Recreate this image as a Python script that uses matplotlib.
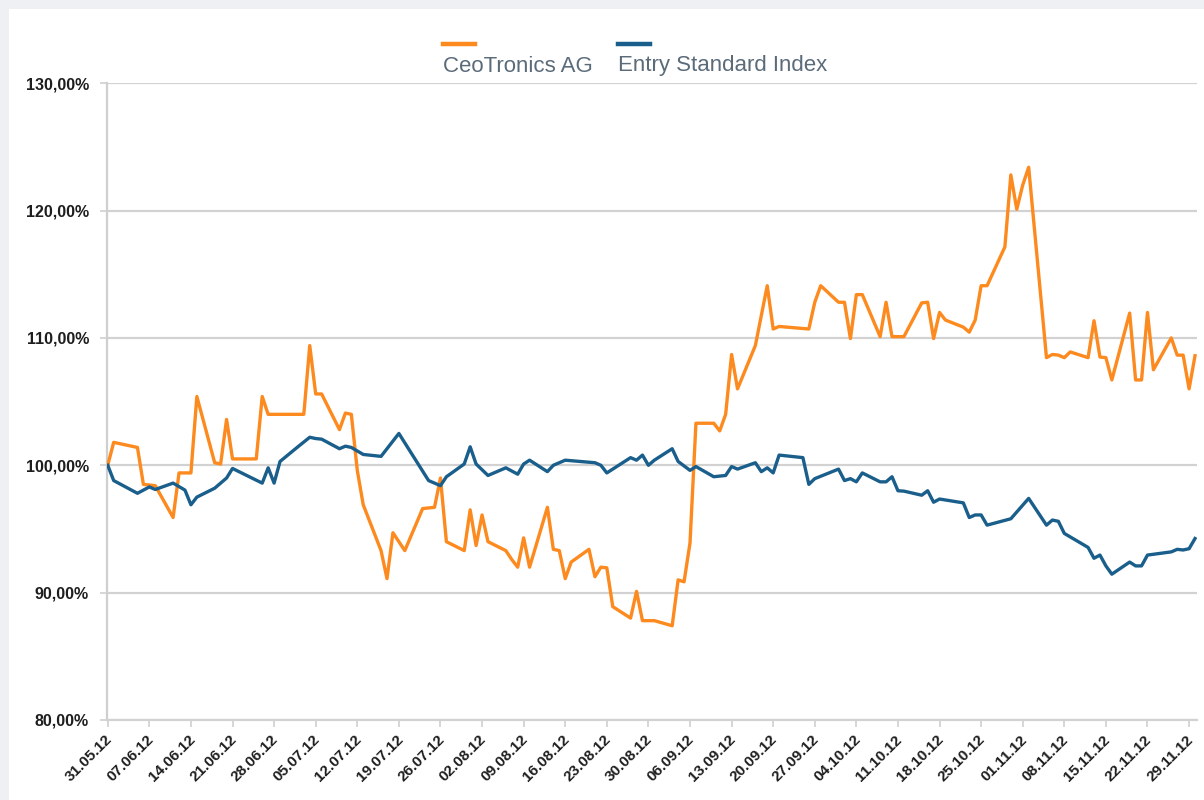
import datetime as dt
import matplotlib
matplotlib.use("Agg")
import matplotlib.pyplot as plt
import matplotlib.dates as mdates
import matplotlib.transforms as mtransforms
from matplotlib.lines import Line2D
from matplotlib.patches import Rectangle
from matplotlib.ticker import FuncFormatter, MultipleLocator

plt.rcParams["font.family"] = ["Liberation Sans", "DejaVu Sans"]

series_names = ["CeoTronics AG", "Entry Standard Index"]
series_colors = ["#fd8a1e", "#1a5f8b"]

# CeoTronics AG, relative to 31.05.12 (%)
ceo_dates = [
    "31.05.12", "01.06.12", "04.06.12", "05.06.12", "06.06.12", "08.06.12", "11.06.12", "12.06.12",
    "14.06.12", "15.06.12", "18.06.12", "19.06.12", "20.06.12", "21.06.12", "25.06.12", "26.06.12",
    "27.06.12", "03.07.12", "04.07.12", "05.07.12", "06.07.12", "09.07.12", "10.07.12", "11.07.12",
    "12.07.12", "13.07.12", "16.07.12", "17.07.12", "18.07.12", "20.07.12", "23.07.12", "25.07.12",
    "26.07.12", "27.07.12", "30.07.12", "31.07.12", "01.08.12", "02.08.12", "03.08.12", "06.08.12",
    "07.08.12", "08.08.12", "09.08.12", "10.08.12", "13.08.12", "14.08.12", "15.08.12", "16.08.12",
    "17.08.12", "20.08.12", "21.08.12", "22.08.12", "23.08.12", "24.08.12", "27.08.12", "28.08.12",
    "29.08.12", "31.08.12", "03.09.12", "04.09.12", "05.09.12", "06.09.12", "07.09.12", "10.09.12",
    "11.09.12", "12.09.12", "13.09.12", "14.09.12", "17.09.12", "19.09.12", "20.09.12", "21.09.12",
    "26.09.12", "27.09.12", "28.09.12", "01.10.12", "02.10.12", "03.10.12", "04.10.12", "05.10.12",
    "08.10.12", "09.10.12", "10.10.12", "12.10.12", "15.10.12", "16.10.12", "17.10.12", "18.10.12",
    "19.10.12", "22.10.12", "23.10.12", "24.10.12", "25.10.12", "26.10.12", "29.10.12", "30.10.12",
    "31.10.12", "01.11.12", "02.11.12", "05.11.12", "06.11.12", "07.11.12", "08.11.12", "09.11.12",
    "12.11.12", "13.11.12", "14.11.12", "15.11.12", "16.11.12", "19.11.12", "20.11.12", "21.11.12",
    "22.11.12", "23.11.12", "26.11.12", "27.11.12", "28.11.12", "29.11.12", "30.11.12",
]
ceo_values = [
    100.0, 101.8, 101.5, 101.4, 98.5, 98.4, 95.9, 99.4,
    99.4, 105.4, 100.2, 100.1, 103.6, 100.5, 100.5, 105.4,
    104.0, 104.0, 109.4, 105.6, 105.6, 102.8, 104.1, 104.0,
    99.6, 96.9, 93.3, 91.1, 94.7, 93.3, 96.6, 96.7,
    99.0, 94.0, 93.3, 96.5, 93.7, 96.1, 94.0, 93.3,
    92.6, 92.0, 94.3, 92.0, 96.7, 93.4, 93.3, 91.1,
    92.4, 93.4, 91.25, 92.0, 91.95, 88.9, 88.0, 90.1,
    87.8, 87.8, 87.4, 91.0, 90.85, 93.9, 103.3, 103.3,
    102.7, 104.0, 108.7, 106.0, 109.4, 114.1, 110.7, 110.9,
    110.7, 112.8, 114.1, 112.8, 112.8, 109.95, 113.4, 113.4,
    110.1, 112.8, 110.1, 110.1, 112.75, 112.8, 109.95, 112.0,
    111.4, 110.85, 110.45, 111.4, 114.1, 114.1, 117.15, 122.8,
    120.1, 122.0, 123.4, 108.45, 108.7, 108.65, 108.45, 108.9,
    108.45, 111.35, 108.5, 108.45, 106.7, 111.95, 106.7, 106.7,
    112.0, 107.5, 110.0, 108.65, 108.65, 106.0, 108.6,
]

# Entry Standard Index, relative to 31.05.12 (%)
esi_dates = [
    "31.05.12", "01.06.12", "05.06.12", "07.06.12", "08.06.12", "11.06.12", "13.06.12", "14.06.12",
    "15.06.12", "18.06.12", "20.06.12", "21.06.12", "26.06.12", "27.06.12", "28.06.12", "29.06.12",
    "02.07.12", "04.07.12", "05.07.12", "06.07.12", "09.07.12", "10.07.12", "11.07.12", "13.07.12",
    "16.07.12", "19.07.12", "24.07.12", "26.07.12", "27.07.12", "30.07.12", "31.07.12", "01.08.12",
    "03.08.12", "06.08.12", "08.08.12", "09.08.12", "10.08.12", "13.08.12", "14.08.12", "16.08.12",
    "21.08.12", "22.08.12", "23.08.12", "27.08.12", "28.08.12", "29.08.12", "30.08.12", "31.08.12",
    "03.09.12", "04.09.12", "06.09.12", "07.09.12", "10.09.12", "12.09.12", "13.09.12", "14.09.12",
    "17.09.12", "18.09.12", "19.09.12", "20.09.12", "21.09.12", "25.09.12", "26.09.12", "27.09.12",
    "01.10.12", "02.10.12", "03.10.12", "04.10.12", "05.10.12", "08.10.12", "09.10.12", "10.10.12",
    "11.10.12", "12.10.12", "15.10.12", "16.10.12", "17.10.12", "18.10.12", "22.10.12", "23.10.12",
    "24.10.12", "25.10.12", "26.10.12", "30.10.12", "02.11.12", "05.11.12", "06.11.12", "07.11.12",
    "08.11.12", "12.11.12", "13.11.12", "14.11.12", "15.11.12", "16.11.12", "19.11.12", "20.11.12",
    "21.11.12", "22.11.12", "26.11.12", "27.11.12", "28.11.12", "29.11.12", "30.11.12",
]
esi_values = [
    100.0, 98.8, 97.8, 98.3, 98.1, 98.6, 98.05, 96.9,
    97.5, 98.2, 99.0, 99.75, 98.6, 99.8, 98.6, 100.3,
    101.45, 102.2, 102.1, 102.05, 101.3, 101.5, 101.4, 100.85,
    100.7, 102.5, 98.8, 98.4, 99.1, 100.1, 101.45, 100.1,
    99.2, 99.8, 99.3, 100.1, 100.4, 99.5, 100.0, 100.4,
    100.2, 100.0, 99.4, 100.6, 100.4, 100.8, 100.0, 100.4,
    101.3, 100.3, 99.6, 99.9, 99.1, 99.2, 99.9, 99.7,
    100.2, 99.5, 99.8, 99.4, 100.8, 100.6, 98.5, 98.95,
    99.7, 98.8, 98.95, 98.7, 99.4, 98.7, 98.7, 99.1,
    98.0, 97.97, 97.65, 98.0, 97.1, 97.35, 97.05, 95.9,
    96.1, 96.1, 95.3, 95.8, 97.4, 95.3, 95.7, 95.6,
    94.65, 93.55, 92.7, 92.95, 92.1, 91.45, 92.4, 92.1,
    92.1, 92.95, 93.2, 93.4, 93.35, 93.45, 94.25,
]


def parse(ds):
    return [dt.datetime.strptime(d, "%d.%m.%y") for d in ds]


fig = plt.figure(figsize=(12.04, 8.0), dpi=100, facecolor="#eef0f3")
# white panel inside the grey frame
fig.add_artist(Rectangle((9 / 1204, 0), 1 - 9 / 1204, 1 - 9 / 800,
                         transform=fig.transFigure, facecolor="white", edgecolor="none", zorder=0))

ax = fig.add_axes([107 / 1204, 0.1, (1197 - 107) / 1204, 0.796])
ax.set_facecolor("none")

ax.plot(parse(ceo_dates), ceo_values, color=series_colors[0], lw=2.4, solid_joinstyle="round", zorder=3)
ax.plot(parse(esi_dates), esi_values, color=series_colors[1], lw=2.4, solid_joinstyle="round", zorder=3)

ax.set_ylim(80, 130)
ax.yaxis.set_major_locator(MultipleLocator(10))
ax.yaxis.set_major_formatter(FuncFormatter(lambda v, p: f"{v:.2f}".replace(".", ",") + "%"))
ax.grid(axis="y", color="#d2d2d2", lw=1.6, zorder=1)

x0 = dt.datetime(2012, 5, 31)
ax.set_xlim(x0 - dt.timedelta(hours=3), dt.datetime(2012, 11, 30, 8))
ax.xaxis.set_major_locator(mdates.WeekdayLocator(byweekday=mdates.TH))
ax.xaxis.set_major_formatter(mdates.DateFormatter("%d.%m.%y"))

for s in ["top", "right"]:
    ax.spines[s].set_visible(False)
ax.spines["left"].set_color("#cfcfcf")
ax.spines["left"].set_linewidth(1.6)
ax.spines["bottom"].set_color("#d2d2d2")
ax.spines["bottom"].set_linewidth(1.6)

ax.tick_params(axis="y", length=5, width=1.2, color="#cfcfcf", pad=8,
               labelsize=11.5, labelcolor="#1e1e1e")
ax.tick_params(axis="x", length=5, width=1.2, color="#cfcfcf", pad=4,
               labelsize=11, labelcolor="#1e1e1e")
for lab in ax.get_yticklabels():
    lab.set_fontweight("bold")
offset = mtransforms.ScaledTranslation(-3 / 100, 0, fig.dpi_scale_trans)
for lab in ax.get_xticklabels():
    lab.set_fontweight("bold")
    lab.set_rotation(45)
    lab.set_ha("right")
    lab.set_va("top")
    lab.set_rotation_mode("anchor")
    lab.set_transform(lab.get_transform() + offset)

# legend: short line above each label
legend_x = [443, 618]
for name, color, lx in zip(series_names, series_colors, legend_x):
    fig.add_artist(Line2D([lx / 1204, (lx + 32) / 1204], [1 - 44 / 800] * 2,
                          transform=fig.transFigure, color=color, lw=3.2))
    fig.text(lx / 1204, 1 - 66 / 800, name, fontsize=16, color="#5b6b7a",
             ha="left", va="center")

fig.savefig("out.png", dpi=100, facecolor=fig.get_facecolor())
